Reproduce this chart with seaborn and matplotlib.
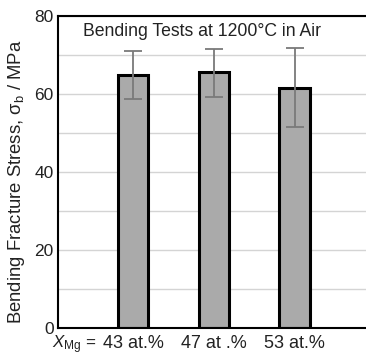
import seaborn as sns
import matplotlib.pyplot as plt
from matplotlib.ticker import MultipleLocator
import matplotlib.transforms as mtransforms
import pandas as pd

# bending fracture stress at 1200 C in air
compositions = ["43 at.%", "47 at .%", "53 at.%"]
stress_mean = [64.9, 65.6, 61.5]
stress_low = [58.7, 59.2, 51.5]
stress_high = [71.0, 71.5, 71.8]

df = pd.DataFrame({"comp": compositions, "stress": stress_mean})

sns.set_style("white")
plt.rcParams["font.family"] = ["Liberation Sans", "DejaVu Sans"]
plt.rcParams["mathtext.fontset"] = "custom"
plt.rcParams["mathtext.rm"] = "Liberation Sans"
plt.rcParams["mathtext.it"] = "Liberation Sans:italic"

fig = plt.figure(figsize=(3.66, 3.56), dpi=100)
ax = fig.add_axes([0.158, 0.079, 0.842, 0.876])

sns.barplot(data=df, x="comp", y="stress", color="#aaaaaa", errorbar=None,
            width=0.38, edgecolor="black", linewidth=2.2, saturation=1, ax=ax)

yerr = [[m - lo for m, lo in zip(stress_mean, stress_low)],
        [hi - m for m, hi in zip(stress_mean, stress_high)]]
ax.errorbar(range(len(compositions)), stress_mean, yerr=yerr, fmt="none",
            ecolor="#7a7a7a", elinewidth=1.3, capsize=6.8, capthick=1.3, zorder=5)

ax.set_ylim(0, 80)
ax.set_xlim(-0.93, 2.88)
ax.yaxis.set_major_locator(MultipleLocator(20))
ax.yaxis.set_minor_locator(MultipleLocator(10))
ax.grid(axis="y", which="both", color="#d4d4d4", linewidth=1.0)
ax.set_axisbelow(True)

for side in ["left", "bottom", "top"]:
    ax.spines[side].set_color("black")
    ax.spines[side].set_linewidth(1.5)
ax.spines["right"].set_visible(False)

ax.tick_params(axis="y", length=0, pad=3, labelsize=12.5, colors="#222222")
ax.tick_params(axis="x", length=0, pad=5, labelsize=13, colors="#222222")
ax.tick_params(which="minor", length=0)

ax.set_xlabel("")
ax.set_ylabel("Bending Fracture Stress, σ$_{\\rm b}$ / MPa", fontsize=13.3,
              color="#222222")
ax.yaxis.set_label_coords(-0.1, 0.47)

trans = mtransforms.blended_transform_factory(ax.transData, ax.transAxes)
ax.annotate(r"$X_{\rm Mg}$ =", xy=(-0.45, 0), xycoords=trans,
            xytext=(0, -4), textcoords="offset points", ha="right", va="top",
            fontsize=12.2, color="#222222")

ax.text(0.468, 0.949, "Bending Tests at 1200°C in Air", transform=ax.transAxes,
        ha="center", va="center", fontsize=12.7, color="#222222")

fig.savefig("out.png", dpi=100)
